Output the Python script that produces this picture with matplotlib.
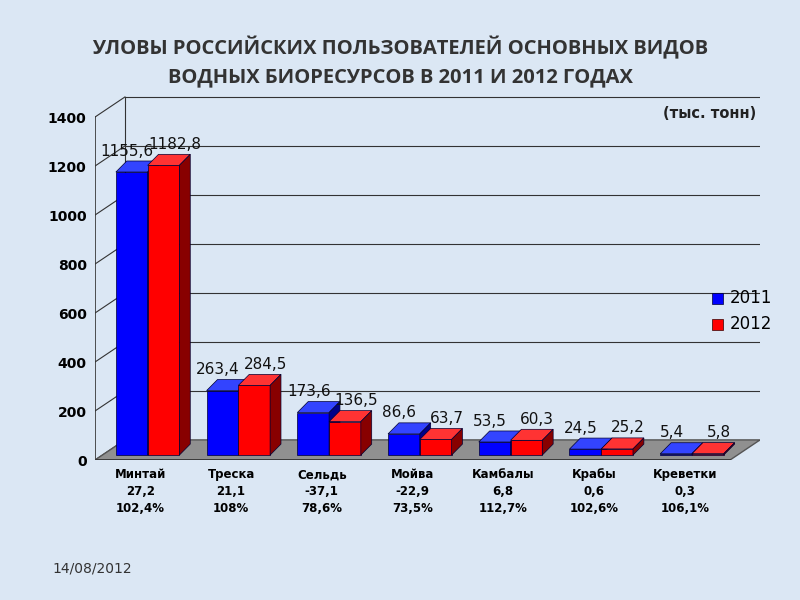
import matplotlib
matplotlib.use("Agg")
import matplotlib.pyplot as plt
from matplotlib.patches import Polygon, Rectangle

categories = ["Минтай\n27,2\n102,4%", "Треска\n21,1\n108%", "Сельдь\n-37,1\n78,6%",
              "Мойва\n-22,9\n73,5%", "Камбалы\n6,8\n112,7%", "Крабы\n0,6\n102,6%",
              "Креветки\n0,3\n106,1%"]
v2011 = [1155.6, 263.4, 173.6, 86.6, 53.5, 24.5, 5.4]
v2012 = [1182.8, 284.5, 136.5, 63.7, 60.3, 25.2, 5.8]
yticks = [0, 200, 400, 600, 800, 1000, 1200, 1400]

fig = plt.figure(figsize=(8, 6), dpi=100)
fig.patch.set_facecolor("#dbe7f4")
ax = fig.add_axes([95/800, 140/600, 665/800, 365/600])
ax.set_facecolor("none")
ax.set_xlim(-0.5, 6.83)
ax.set_ylim(0, 1490)
for s in ax.spines.values():
    s.set_visible(False)

dx, dy = 0.33, 82
for y in yticks:
    ax.plot([-0.5 + dx, 6.5 + dx], [y + dy, y + dy], color="#333333", lw=0.8, zorder=1)
    ax.plot([-0.5, -0.5 + dx], [y, y + dy], color="#333333", lw=0.8, zorder=1)
ax.plot([-0.5 + dx, -0.5 + dx], [dy, 1400 + dy], color="#333333", lw=0.8, zorder=1)
ax.plot([-0.5, -0.5], [0, 1400], color="#333333", lw=1.2, zorder=1)
ax.add_patch(Polygon([(-0.5, 0), (6.5, 0), (6.5 + dx, dy), (-0.5 + dx, dy)],
                     closed=True, facecolor="#909090", edgecolor="#555555", zorder=1))
ax.plot([-0.5, 6.5], [0, 0], color="#333333", lw=1.2, zorder=2)

w = 0.35
bdx, bdy = 0.12, 45

def bar3d(x0, h, front, top, side):
    x0 += 0.08
    y0 = 20
    ax.add_patch(Rectangle((x0, y0), w, h, facecolor=front, edgecolor="#000033", lw=0.5, zorder=3))
    ax.add_patch(Polygon([(x0, y0 + h), (x0 + w, y0 + h), (x0 + w + bdx, y0 + h + bdy), (x0 + bdx, y0 + h + bdy)],
                         facecolor=top, edgecolor="#000033", lw=0.5, zorder=3))
    ax.add_patch(Polygon([(x0 + w, y0), (x0 + w + bdx, y0 + bdy), (x0 + w + bdx, y0 + h + bdy), (x0 + w, y0 + h)],
                         facecolor=side, edgecolor="#000033", lw=0.5, zorder=3))

for i in range(len(categories)):
    bar3d(i - w, v2011[i], "#0000ff", "#3344ff", "#000088")
    bar3d(i, v2012[i], "#ff0000", "#ff3333", "#880000")
    ax.text(i - w / 2 + 0.03, v2011[i] + 75, f"{v2011[i]:.1f}".replace(".", ","),
            ha="center", va="bottom", fontsize=11, color="#111111", zorder=5)
    ax.text(i + w / 2 + 0.2, v2012[i] + 75, f"{v2012[i]:.1f}".replace(".", ","),
            ha="center", va="bottom", fontsize=11, color="#111111", zorder=5)

ax.set_yticks(yticks)
ax.set_yticklabels([str(y) for y in yticks], fontweight="bold", fontsize=10)
ax.set_xticks(range(len(categories)))
ax.set_xticklabels(categories, fontweight="bold", fontsize=8.5, linespacing=1.4)
ax.tick_params(length=0, pad=6)

fig.text(0.5, 1 - 62/600, "УЛОВЫ РОССИЙСКИХ ПОЛЬЗОВАТЕЛЕЙ ОСНОВНЫХ ВИДОВ\nВОДНЫХ БИОРЕСУРСОВ В 2011 И 2012 ГОДАХ",
         ha="center", va="center", fontsize=14.5, fontweight="bold", color="#333333",
         family="Open Sans", linespacing=1.5)
fig.text(0.945, 0.81, "(тыс. тонн)", ha="right", va="center", fontsize=10.5, fontweight="bold", color="#222222")

fig.patches.append(Rectangle((712/800, 1 - 304/600), 11/800, 11/600, transform=fig.transFigure, facecolor="#0000ff", edgecolor="#000033", lw=0.5))
fig.patches.append(Rectangle((712/800, 1 - 330/600), 11/800, 11/600, transform=fig.transFigure, facecolor="#ff0000", edgecolor="#330000", lw=0.5))
fig.text(730/800, 1 - 298/600, "2011", va="center", fontsize=12)
fig.text(730/800, 1 - 324/600, "2012", va="center", fontsize=12)

fig.text(52/800, 1 - 568/600, "14/08/2012", fontsize=10, color="#333333", va="center")

fig.savefig("out.png", dpi=100, facecolor=fig.get_facecolor())
